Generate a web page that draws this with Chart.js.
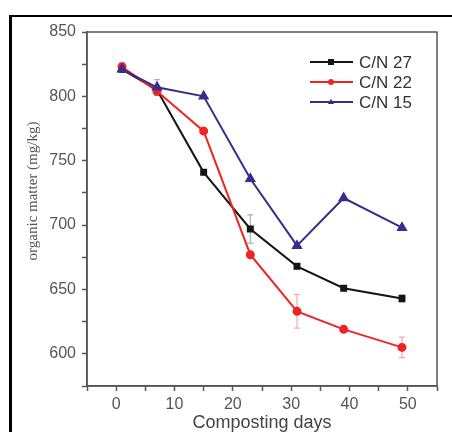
<!DOCTYPE html>
<html>
<head>
<meta charset="utf-8">
<script src="https://cdn.jsdelivr.net/npm/chart.js@4.4.1/dist/chart.umd.min.js"></script>
<style>
    html, body { margin: 0; padding: 0; background: #fff; }
    #wrap { position: relative; width: 452px; height: 432px; overflow: hidden; }
    #frame { position: absolute; left: 9px; top: 15px; width: 460px; height: 440px;
             border-top: 2px solid #000; border-left: 3px solid #000; }
    #myChart { position: absolute; left: 0; top: 0; }
</style>
</head>
<body>
<div id="wrap">
    <div id="frame"></div>
    <canvas id="myChart" width="452" height="432"></canvas>
</div>
<script>
// composting days (x) and organic matter (mg/kg) per C/N ratio
var days = [1, 7, 15, 23, 31, 39, 49];
var cn27 = [821, 805, 741, 697, 668, 651, 643];
var cn22 = [823, 804, 773, 677, 633, 619, 605];
var cn15 = [821, 807, 800, 736, 684, 721, 698];
// error bars (+/-)
var err27 = [2, 3, 0, 11, 2, 1, 3];
var err22 = [3, 3, 0, 0, 13, 2, 8];
var err15 = [2, 6, 0, 0, 0, 0, 0];
var seriesNames = ["C/N 27", "C/N 22", "C/N 15"];
var yTitle = "organic matter (mg/kg)";
var xTitle = "Composting days";

function points(vals) {
    return days.map(function (d, i) { return { x: d, y: vals[i] }; });
}

// error bars drawn before the markers
var errorBars = {
    id: "errorBars",
    beforeDatasetsDraw: function (chart) {
        var ctx = chart.ctx, xs = chart.scales.x, ys = chart.scales.y;
        chart.data.datasets.forEach(function (ds) {
            ctx.save();
            ctx.strokeStyle = ds.errColor;
            ctx.lineWidth = 1.2;
            ds.data.forEach(function (p, i) {
                var e = ds.errors[i];
                if (!e) return;
                var px = xs.getPixelForValue(p.x);
                var top = ys.getPixelForValue(p.y + e);
                var bot = ys.getPixelForValue(p.y - e);
                ctx.beginPath();
                ctx.moveTo(px, top); ctx.lineTo(px, bot);
                ctx.moveTo(px - 3, top); ctx.lineTo(px + 3, top);
                ctx.moveTo(px - 3, bot); ctx.lineTo(px + 3, bot);
                ctx.stroke();
            });
            ctx.restore();
        });
    }
};

function marker(ctx, style, x, y, r) {
    ctx.beginPath();
    if (style === "rect") {
        ctx.rect(x - r, y - r, 2 * r, 2 * r);
    } else if (style === "triangle") {
        ctx.moveTo(x, y - r * 1.1);
        ctx.lineTo(x + r, y + r * 0.7);
        ctx.lineTo(x - r, y + r * 0.7);
        ctx.closePath();
    } else {
        ctx.arc(x, y, r, 0, Math.PI * 2);
    }
    ctx.fill();
}

// frame, legend and y title
var extras = {
    id: "extras",
    afterDraw: function (chart) {
        var ctx = chart.ctx, a = chart.chartArea;
        ctx.save();
        ctx.strokeStyle = "#555";
        ctx.lineWidth = 1.5;
        ctx.strokeRect(a.left, a.top, a.right - a.left, a.bottom - a.top);

        chart.data.datasets.forEach(function (ds, i) {
            var y = 62 + i * 20;
            ctx.strokeStyle = ds.borderColor;
            ctx.fillStyle = ds.borderColor;
            ctx.lineWidth = 2;
            ctx.beginPath();
            ctx.moveTo(310, y); ctx.lineTo(353, y);
            ctx.stroke();
            marker(ctx, ds.pointStyle, 331, y, 3);
            ctx.fillStyle = "#333";
            ctx.font = '17px "Liberation Sans", Arial, sans-serif';
            ctx.textAlign = "left";
            ctx.textBaseline = "middle";
            ctx.fillText(ds.label, 359, y + 1);
        });

        ctx.translate(33, 191);
        ctx.rotate(-Math.PI / 2);
        ctx.fillStyle = "#555";
        ctx.font = '15px "Liberation Serif", "Times New Roman", serif';
        ctx.textAlign = "center";
        ctx.textBaseline = "middle";
        ctx.fillText(yTitle, 0, 0);
        ctx.restore();
    }
};

var ctx = document.getElementById("myChart").getContext("2d");
var myChart = new Chart(ctx, {
    type: "line",
    data: {
        datasets: [
            {
                label: seriesNames[0],
                data: points(cn27),
                errors: err27,
                errColor: "rgba(120, 120, 120, 0.6)",
                borderColor: "#151515",
                backgroundColor: "#151515",
                pointStyle: "rect",
                pointRadius: 3.5,
                borderWidth: 2,
                order: 3
            },
            {
                label: seriesNames[1],
                data: points(cn22),
                errors: err22,
                errColor: "rgba(240, 110, 120, 0.6)",
                borderColor: "#ee2424",
                backgroundColor: "#ee2424",
                pointStyle: "circle",
                pointRadius: 3.5,
                borderWidth: 2,
                order: 2
            },
            {
                label: seriesNames[2],
                data: points(cn15),
                errors: err15,
                errColor: "rgba(110, 110, 200, 0.6)",
                borderColor: "#3a2c8c",
                backgroundColor: "#3a2c8c",
                pointStyle: "triangle",
                pointRadius: 4.5,
                borderWidth: 2,
                order: 1
            }
        ]
    },
    options: {
        responsive: false,
        animation: false,
        layout: { padding: { top: 32, right: 15, left: 0, bottom: 0 } },
        plugins: {
            legend: { display: false },
            tooltip: { enabled: false }
        },
        scales: {
            x: {
                type: "linear",
                min: -5,
                max: 55,
                afterFit: function (s) { s.height = 46; },
                grid: { drawOnChartArea: false, drawTicks: true, tickLength: 5, tickColor: "#555", tickWidth: 1.5 },
                border: { color: "#555", width: 1.5 },
                ticks: {
                    stepSize: 5,
                    padding: 4,
                    maxRotation: 0,
                    autoSkip: false,
                    color: "#555",
                    font: { family: '"Liberation Sans", Arial, sans-serif', size: 16 },
                    callback: function (v) { return (v % 10 === 0 && v >= 0 && v <= 50) ? v : ""; }
                },
                title: {
                    display: true,
                    text: xTitle,
                    color: "#444",
                    padding: 0,
                    font: { family: '"Liberation Sans", Arial, sans-serif', size: 18, lineHeight: 1 }
                }
            },
            y: {
                min: 575,
                max: 850,
                afterFit: function (s) { s.width = 87; },
                grid: { drawOnChartArea: false, drawTicks: true, tickLength: 5, tickColor: "#555", tickWidth: 1.5 },
                border: { color: "#555", width: 1.5 },
                ticks: {
                    stepSize: 25,
                    padding: 6,
                    autoSkip: false,
                    color: "#555",
                    font: { family: '"Liberation Sans", Arial, sans-serif', size: 16 },
                    callback: function (v) { return v % 50 === 0 ? v : ""; }
                }
            }
        }
    },
    plugins: [errorBars, extras]
});
</script>
</body>
</html>
